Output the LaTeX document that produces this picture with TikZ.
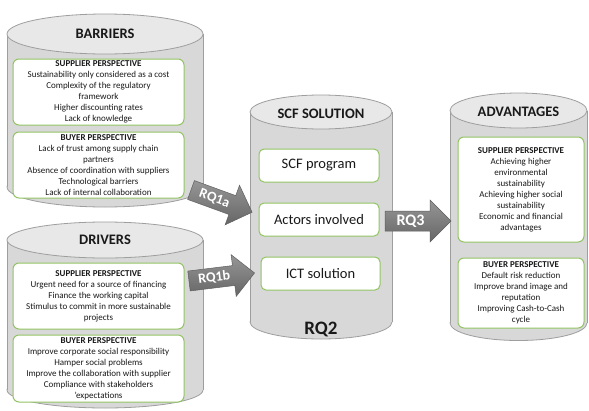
\documentclass[tikz,border=0pt]{standalone}
\usepackage{fontspec}
\setmainfont{Carlito}
\definecolor{cylside}{RGB}{216,216,216}
\definecolor{cyltop}{RGB}{232,232,232}
\definecolor{cylline}{RGB}{158,158,158}
\definecolor{boxgreen}{RGB}{146,196,100}
\definecolor{arrtop}{RGB}{150,150,150}
\definecolor{arrbot}{RGB}{102,102,102}
\definecolor{arrline}{RGB}{95,95,95}
\definecolor{txt}{RGB}{25,25,25}
\tikzset{
  cylbody/.style={fill=cylside, draw=cylline, line width=0.8pt},
  cylcap/.style={fill=cyltop, draw=cylline, line width=0.8pt},
  cylsideline/.style={draw=cylline, line width=0.8pt},
  persbox/.style={draw=boxgreen, line width=1pt, fill=white, rounded corners=6pt,
    align=center, inner sep=1pt, text=txt, font=\fontsize{9}{11}\selectfont},
  itembox/.style={draw=boxgreen, line width=1pt, fill=white, rounded corners=5pt,
    align=center, inner sep=1pt, text=txt, font=\fontsize{14.5}{17}\selectfont},
  cyltitle/.style={text=txt, font=\fontsize{14.5}{17}\selectfont\bfseries, inner sep=0pt},
  arrowfill/.style={top color=arrtop, bottom color=arrbot, draw=arrline, line width=0.5pt},
  arrowlabel/.style={text=white, inner sep=0pt, font=\bfseries}
}
\newcommand{\cylinderdraw}[5]{%
  \filldraw[cylbody] (#1,#3) ellipse [x radius=#4pt, y radius=#5pt];
  \fill[cylside] (#1-#4,#2) rectangle (#1+#4,#3);
  \draw[cylsideline] (#1-#4,#2) -- (#1-#4,#3) (#1+#4,#2) -- (#1+#4,#3);
  \filldraw[cylcap] (#1,#2) ellipse [x radius=#4pt, y radius=#5pt];
}
\newcommand{\rqarrow}[6]{%
  \begin{scope}[shift={#2}, rotate=#3]
    \path[arrowfill] (0,-10) -- (#4-21,-10) -- (#4-21,-21) -- (#4,0)
      -- (#4-21,21) -- (#4-21,10) -- (0,10) -- cycle;
    \node[arrowlabel, transform shape, font=\fontsize{#6}{#6}\selectfont\bfseries]
      (#1) at ({(#4-21)/2+3},0) {#5};
  \end{scope}
}
\begin{document}
\begin{tikzpicture}[x=1pt, y=-1pt]
\fill[white] (0,0) rectangle (589,410);
\useasboundingbox (0,0) rectangle (589,410);

% cylinders
\cylinderdraw{105}{34}{187}{98}{20}
\cylinderdraw{105}{240}{390}{98}{18}
\cylinderdraw{321}{112}{322}{71}{17}
\cylinderdraw{518.5}{110.5}{323}{68.5}{17.5}

% titles
\node[cyltitle] (tbar) at (105,34) {BARRIERS};
\node[cyltitle] (tdrv) at (105,240) {DRIVERS};
\node[cyltitle] (tscf) at (321,114) {SCF SOLUTION};
\node[cyltitle] (tadv) at (518.5,112) {ADVANTAGES};
\node[cyltitle, font=\fontsize{19}{21}\selectfont\bfseries] (rq2) at (321,329) {RQ2};

% barriers boxes
\node[persbox, minimum width=171pt, minimum height=66pt] (bsup) at (98.5,92)
  {\textbf{SUPPLIER PERSPECTIVE}\\Sustainability only considered as a cost\\Complexity of the regulatory\\framework\\Higher discounting rates\\Lack of knowledge};
\node[persbox, minimum width=171pt, minimum height=66pt] (bbuy) at (98.5,165)
  {\textbf{BUYER PERSPECTIVE}\\Lack of trust among supply chain\\partners\\Absence of coordination with suppliers\\Technological barriers\\Lack of internal collaboration};

% drivers boxes
\node[persbox, minimum width=171pt, minimum height=66pt] (dsup) at (98.5,296)
  {\textbf{SUPPLIER PERSPECTIVE}\\Urgent need for a source of financing\\Finance the working capital\\Stimulus to commit in more sustainable\\projects};
\node[persbox, minimum width=171pt, minimum height=67pt] (dbuy) at (98.5,368.5)
  {\textbf{BUYER PERSPECTIVE}\\Improve corporate social responsibility\\Hamper social problems\\Improve the collaboration with supplier\\Compliance with stakeholders\\'expectations};

% SCF boxes
\node[itembox, minimum width=120pt, minimum height=33pt] (prog) at (319,165.5) {SCF program};
\node[itembox, minimum width=120pt, minimum height=33pt] (act) at (319,219.5) {Actors involved};
\node[itembox, minimum width=119pt, minimum height=33pt] (ict) at (320.5,273.5) {ICT solution};

% advantages boxes
\node[persbox, minimum width=126pt, minimum height=105pt] (asup) at (521,189.5)
  {\textbf{SUPPLIER PERSPECTIVE}\\Achieving higher\\environmental\\sustainability\\Achieving higher social\\sustainability\\Economic and financial\\advantages};
\node[persbox, minimum width=126pt, minimum height=70pt] (abuy) at (521,293)
  {\textbf{BUYER PERSPECTIVE}\\Default risk reduction\\Improve brand image and\\reputation\\Improving Cash-to-Cash\\cycle};

% block arrows
\rqarrow{rqa}{(191,190)}{-20}{65}{RQ1a}{14}
\rqarrow{rqb}{(189,281)}{7}{66}{RQ1b}{14}
\rqarrow{rqc}{(385,221)}{0}{66}{RQ3}{16}
\end{tikzpicture}
\end{document}
